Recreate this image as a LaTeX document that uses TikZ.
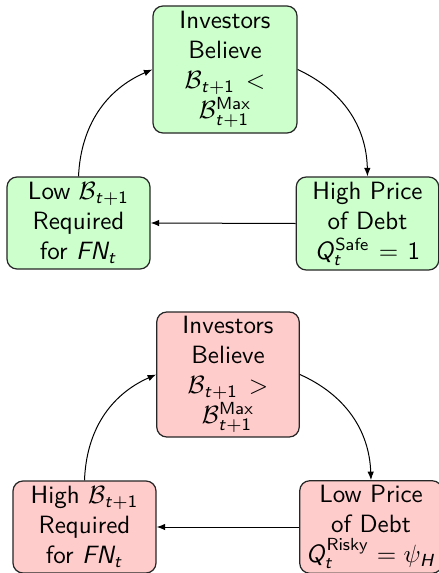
\documentclass[tikz,border=0pt]{standalone}
\usepackage{amsmath}
\usetikzlibrary{arrows.meta}
\DeclareSymbolFont{sfit}{OT1}{cmss}{m}{sl}
\DeclareSymbolFont{sfup}{OT1}{cmss}{m}{n}
\DeclareMathSymbol{t}{\mathalpha}{sfit}{`t}
\DeclareMathSymbol{F}{\mathalpha}{sfit}{`F}
\DeclareMathSymbol{N}{\mathalpha}{sfit}{`N}
\DeclareMathSymbol{Q}{\mathalpha}{sfit}{`Q}
\DeclareMathSymbol{H}{\mathalpha}{sfit}{`H}
\DeclareMathSymbol{1}{\mathalpha}{sfup}{`1}
\DeclareMathAlphabet{\mathsfup}{OT1}{cmss}{m}{n}
\definecolor{gfill}{HTML}{CCFFCC}
\definecolor{rfill}{HTML}{FFCCCC}
\begin{document}
\begin{tikzpicture}[x=0.4pt,y=-0.4pt,
  font=\sffamily\fontsize{10}{12}\selectfont,
  box/.style={draw=black!85, rounded corners=4pt, align=center, inner sep=1pt, line width=0.5pt},
  gbox/.style={box, fill=gfill},
  rbox/.style={box, fill=rfill},
  arr/.style={-{Latex[length=3.4pt,width=2.6pt]}, line width=0.4pt}]
\useasboundingbox (0,0) rectangle (439,573);
% green cycle
\node[gbox, minimum width=57.6pt, minimum height=50.8pt, text width=55pt] (gt) at (225,69.5)
  {Investors\\Believe\\$\mathcal{B}_{t+1}<$\\$\mathcal{B}_{t+1}^{\mathsfup{Max}}$};
\node[gbox, minimum width=57.2pt, minimum height=36.8pt, text width=55pt] (gl) at (78.5,223)
  {Low $\mathcal{B}_{t+1}$\\Required\\for $FN_t$};
\node[gbox, minimum width=56.4pt, minimum height=37.2pt, text width=55pt] (gr) at (367.5,223.5)
  {High Price\\of Debt\\$Q_t^{\mathsfup{Safe}}=1$};
\draw[arr] (gl.north) to[bend left=32] (gt.west);
\draw[arr] (gt.east) to[bend left=32] (gr.north);
\draw[arr] (gr.west) -- (gl.east);
% red cycle
\node[rbox, minimum width=56.8pt, minimum height=50pt, text width=55pt] (rt) at (228,374.5)
  {Investors\\Believe\\$\mathcal{B}_{t+1}>$\\$\mathcal{B}_{t+1}^{\mathsfup{Max}}$};
\node[rbox, minimum width=57.2pt, minimum height=36.8pt, text width=55pt] (rl) at (84.5,527)
  {High $\mathcal{B}_{t+1}$\\Required\\for $FN_t$};
\node[rbox, minimum width=56pt, minimum height=37pt, text width=55pt] (rr) at (371,527)
  {Low Price\\of Debt\\$Q_t^{\mathsfup{Risky}}=\psi_H$};
\draw[arr] (rl.north) to[bend left=32] (rt.west);
\draw[arr] (rt.east) to[bend left=32] (rr.north);
\draw[arr] (rr.west) -- (rl.east);
\end{tikzpicture}
\end{document}
